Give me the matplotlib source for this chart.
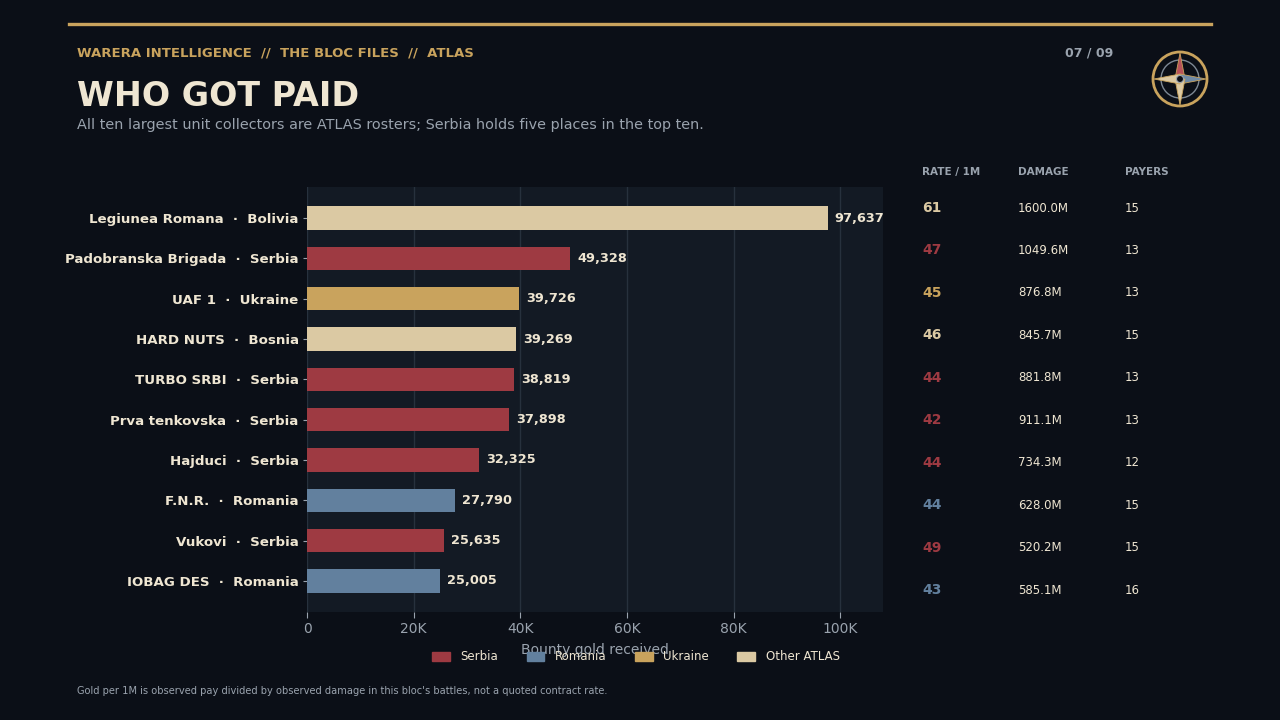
import numpy as np
import matplotlib
matplotlib.use("Agg")
import matplotlib.pyplot as plt
from matplotlib.patches import Circle, Polygon, Patch
from matplotlib.lines import Line2D

# ---- data -------------------------------------------------------------
units = ["Legiunea Romana", "Padobranska Brigada", "UAF 1", "HARD NUTS", "TURBO SRBI",
         "Prva tenkovska", "Hajduci", "F.N.R.", "Vukovi", "IOBAG DES"]
countries = ["Bolivia", "Serbia", "Ukraine", "Bosnia", "Serbia",
             "Serbia", "Serbia", "Romania", "Serbia", "Romania"]
groups = ["Other ATLAS", "Serbia", "Ukraine", "Other ATLAS", "Serbia",
          "Serbia", "Serbia", "Romania", "Serbia", "Romania"]
gold_received = [97637, 49328, 39726, 39269, 38819, 37898, 32325, 27790, 25635, 25005]
rate_per_1m = [61, 47, 45, 46, 44, 42, 44, 44, 49, 43]
damage_m = [1600.0, 1049.6, 876.8, 845.7, 881.8, 911.1, 734.3, 628.0, 520.2, 585.1]
payers = [15, 13, 13, 15, 13, 13, 12, 15, 15, 16]
x_ticks = [0, 20000, 40000, 60000, 80000, 100000]
x_ticklabels = ["0", "20K", "40K", "60K", "80K", "100K"]

# ---- style ------------------------------------------------------------
BG = "#0b0f17"
PANEL = "#131a24"
GRID = "#27313d"
CREAM = "#efe6d2"
GREY = "#9aa3ae"
GOLD = "#c9a35d"
group_colors = {"Serbia": "#9e3a42", "Romania": "#62809e",
                "Ukraine": "#c9a35d", "Other ATLAS": "#dbc9a3"}

plt.rcParams["font.family"] = ["DejaVu Sans"]

fig = plt.figure(figsize=(12.8, 7.2), dpi=100, facecolor=BG)

# top rule
fig.add_artist(Line2D([69 / 1280, 1211 / 1280], [1 - 24 / 720] * 2,
                      color=GOLD, lw=2.4, transform=fig.transFigure))

fig.text(77 / 1280, 1 - 53 / 720, "WARERA INTELLIGENCE  //  THE BLOC FILES  //  ATLAS",
         color=GOLD, fontsize=9.5, fontweight="bold", va="center")
fig.text(1113 / 1280, 1 - 53 / 720, "07 / 09", color=GREY, fontsize=9,
         fontweight="bold", va="center", ha="right")
fig.text(77 / 1280, 1 - 97 / 720, "WHO GOT PAID", color=CREAM, fontsize=24,
         fontweight="bold", va="center")
fig.text(77 / 1280, 1 - 125 / 720,
         "All ten largest unit collectors are ATLAS rosters; Serbia holds five places in the top ten.",
         color=GREY, fontsize=10.4, va="center")
fig.text(77 / 1280, 1 - 691 / 720,
         "Gold per 1M is observed pay divided by observed damage in this bloc's battles, not a quoted contract rate.",
         color=GREY, fontsize=7.1, va="center")

# ---- bar chart --------------------------------------------------------
ax = fig.add_axes([307 / 1280, 108 / 720, 576 / 1280, 425 / 720])
ax.set_facecolor(PANEL)
y = np.arange(len(units))
colors = [group_colors[g] for g in groups]
ax.barh(y, gold_received, height=0.58, color=colors, zorder=3)
ax.invert_yaxis()
ax.set_xlim(0, 108000)
ax.set_xticks(x_ticks)
ax.set_xticklabels(x_ticklabels)
ax.set_yticks(y)
ax.set_yticklabels([f"{u}  \u00b7  {c}" for u, c in zip(units, countries)],
                   color=CREAM, fontsize=9.6, fontweight="bold")
ax.tick_params(axis="x", colors=GREY, labelsize=10, length=4, color=GREY)
ax.tick_params(axis="y", length=3, color=GREY, pad=3)
for s in ax.spines.values():
    s.set_visible(False)
ax.grid(axis="x", color=GRID, lw=1, zorder=0)
ax.set_axisbelow(True)
ax.set_xlabel("Bounty gold received", color=GREY, fontsize=10, labelpad=5)
for yi, v in zip(y, gold_received):
    ax.text(v + 1300, yi, f"{v:,}", color=CREAM, fontsize=9.3, fontweight="bold",
            va="center", ha="left", zorder=4)

handles = [Patch(color=group_colors[k], label=k) for k in group_colors]
fig.legend(handles=handles, loc="center", bbox_to_anchor=(636 / 1280, 1 - 657 / 720),
           ncol=4, frameon=False, fontsize=8.5, labelcolor=CREAM,
           handlelength=1.5, handleheight=0.7, columnspacing=2.4, handletextpad=0.9)

# ---- side table -------------------------------------------------------
col_x = [922 / 1280, 1018 / 1280, 1125 / 1280]
for cx, h in zip(col_x, ["RATE / 1M", "DAMAGE", "PAYERS"]):
    fig.text(cx, 1 - 172 / 720, h, color=GREY, fontsize=7.5, fontweight="bold", va="center")
row_y = np.linspace(208, 590, len(units))
for ry, r, d, p, g in zip(row_y, rate_per_1m, damage_m, payers, groups):
    yy = 1 - ry / 720
    fig.text(col_x[0], yy, str(r), color=group_colors[g], fontsize=10,
             fontweight="bold", va="center")
    fig.text(col_x[1], yy, f"{d:.1f}M", color=CREAM, fontsize=8.5, va="center")
    fig.text(col_x[2], yy, str(p), color=CREAM, fontsize=8.5, va="center")

# ---- compass ----------------------------------------------------------
cax = fig.add_axes([(1180 - 32) / 1280, 1 - (79 + 32) / 720, 64 / 1280, 64 / 720])
cax.set_xlim(-32, 32)
cax.set_ylim(-32, 32)
cax.set_aspect("equal")
cax.axis("off")
cax.add_patch(Circle((0, 0), 27, fill=False, ec=GOLD, lw=2))
cax.add_patch(Circle((0, 0), 19, fill=False, ec="#7d8894", lw=1))
w = 5
points = {"N": ((0, 26), "#b8535a"), "E": ((26, 0), "#6f8aa6"),
          "S": ((0, -26), "#dbc9a3"), "W": ((-26, 0), "#dbc9a3")}
for key, ((px, py), col) in points.items():
    if px == 0:
        side = [(-w, 0), (w, 0)]
    else:
        side = [(0, -w), (0, w)]
    cax.add_patch(Polygon([side[0], (px, py), side[1]], closed=True,
                          fc=col, ec=GOLD, lw=0.6, zorder=3))
cax.add_patch(Circle((0, 0), 3.5, fc=BG, ec="#9aa3ae", lw=0.8, zorder=4))

fig.savefig("out.png", dpi=100, facecolor=BG)
